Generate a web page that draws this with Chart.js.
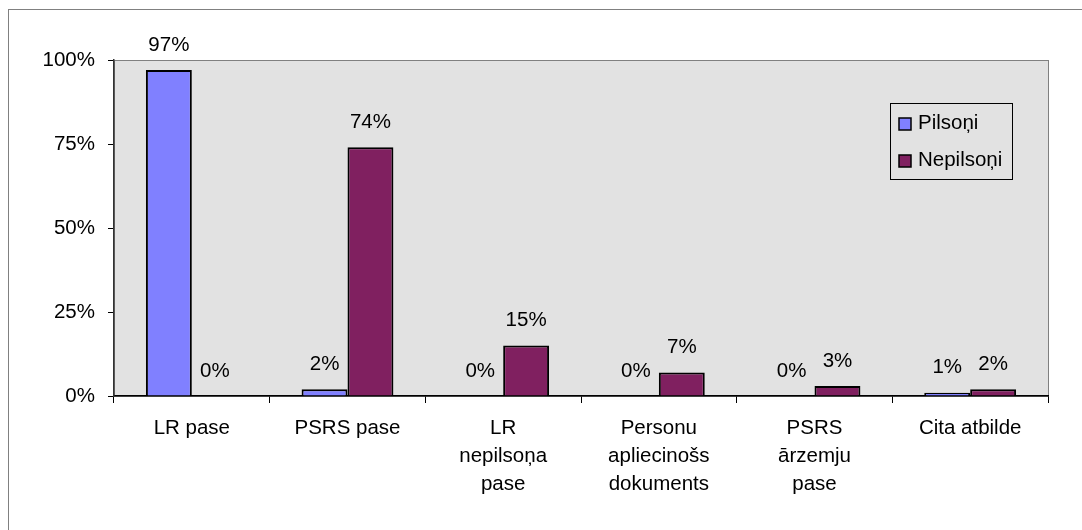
<!DOCTYPE html>
<html>
<head>
<meta charset="utf-8">
<script src="https://cdn.jsdelivr.net/npm/chart.js@4/dist/chart.umd.min.js"></script>
<style>
  html, body { margin: 0; padding: 0; background: #fff; }
  #wrap { position: relative; width: 1082px; height: 530px; overflow: hidden; }
  #frame { position: absolute; left: 8px; top: 9px; width: 1200px; height: 600px;
           border-left: 1px solid #808080; border-top: 1px solid #808080; }
  canvas { position: absolute; left: 0; top: 0; }
</style>
</head>
<body>
<div id="wrap">
  <div id="frame"></div>
  <canvas id="c" width="1082" height="530"></canvas>
</div>
<script>
const categories = [
  "LR pase",
  "PSRS pase",
  ["LR", "nepilsoņa", "pase"],
  ["Personu", "apliecinošs", "dokuments"],
  ["PSRS", "ārzemju", "pase"],
  "Cita atbilde",
];
const pilsoni = [97, 2, 0, 0, 0, 1];
const nepilsoni = [0, 74, 15, 7, 3, 2];
const yTicks = [0, 25, 50, 75, 100];

const FONT = { family: "'Liberation Sans', Arial, sans-serif", size: 20.5 };

const plotBox = {
  id: "plotBox",
  beforeDraw(chart) {
    const { ctx, chartArea: a } = chart;
    ctx.save();
    ctx.fillStyle = "#e2e2e2";
    ctx.fillRect(a.left, a.top, a.right - a.left, a.bottom - a.top);
    ctx.strokeStyle = "#808080";
    ctx.lineWidth = 1;
    ctx.strokeRect(a.left + 0.5, a.top + 0.5, a.right - a.left, a.bottom - a.top);
    ctx.restore();
  },
};

const valueLabels = {
  id: "valueLabels",
  afterDatasetsDraw(chart) {
    const { ctx } = chart;
    ctx.save();
    ctx.font = `${FONT.size}px ${FONT.family}`;
    ctx.fillStyle = "#000";
    ctx.textAlign = "center";
    ctx.textBaseline = "middle";
    chart.data.datasets.forEach((ds, i) => {
      chart.getDatasetMeta(i).data.forEach((bar, j) => {
        ctx.fillText(ds.data[j] + "%", bar.x, bar.y - 25);
      });
    });
    ctx.restore();
  },
};

const boxLegend = {
  id: "boxLegend",
  afterDraw(chart) {
    const { ctx } = chart;
    const x = 890, y = 103, w = 122, h = 76;
    ctx.save();
    ctx.fillStyle = "#e2e2e2";
    ctx.fillRect(x, y, w, h);
    ctx.strokeStyle = "#000";
    ctx.lineWidth = 1;
    ctx.strokeRect(x + 0.5, y + 0.5, w, h);
    ctx.font = `${FONT.size}px ${FONT.family}`;
    ctx.textBaseline = "middle";
    chart.data.datasets.forEach((ds, i) => {
      const cy = y + 21 + i * 37;
      ctx.fillStyle = ds.backgroundColor;
      ctx.fillRect(899, cy - 6, 12, 12);
      ctx.strokeStyle = "#000";
      ctx.lineWidth = 1.5;
      ctx.strokeRect(899, cy - 6, 12, 12);
      ctx.fillStyle = "#000";
      ctx.fillText(ds.label, 918, cy - 1);
    });
    ctx.restore();
  },
};

new Chart(document.getElementById("c"), {
  type: "bar",
  data: {
    labels: categories,
    datasets: [
      { label: "Pilsoņi", data: pilsoni, backgroundColor: "#8080ff", borderColor: "#000", borderWidth: 2 },
      { label: "Nepilsoņi", data: nepilsoni, backgroundColor: "#802060", borderColor: "#000", borderWidth: 2 },
    ],
  },
  options: {
    responsive: false,
    animation: false,
    layout: { padding: { top: 60, right: 34, bottom: 0, left: 0 } },
    datasets: { bar: { categoryPercentage: 0.59, barPercentage: 1 } },
    plugins: { legend: { display: false }, tooltip: { enabled: false } },
    scales: {
      x: {
        grid: { offset: true, drawOnChartArea: false, tickLength: 7, color: "#000" },
        border: { color: "#000", width: 1.5 },
        ticks: { font: { ...FONT, lineHeight: 1.38 }, color: "#000", padding: 11, maxRotation: 0, autoSkip: false },
        afterFit: (s) => { s.height = 134; },
      },
      y: {
        min: 0,
        max: 100,
        afterBuildTicks: (s) => { s.ticks = yTicks.map((v) => ({ value: v })); },
        grid: { drawOnChartArea: false, tickLength: 6, color: "#000" },
        border: { color: "#333", width: 1.5 },
        ticks: { font: FONT, color: "#000", padding: 13, callback: (v) => v + "%" },
        afterFit: (s) => { s.width = 114; },
      },
    },
  },
  plugins: [plotBox, valueLabels, boxLegend],
});
</script>
</body>
</html>
